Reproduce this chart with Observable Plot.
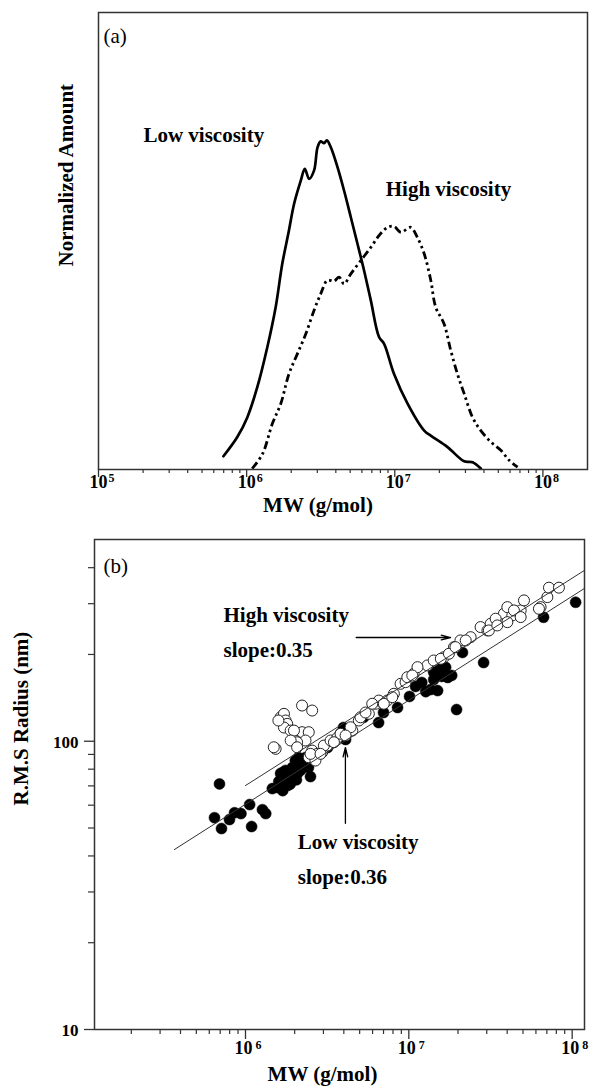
<!DOCTYPE html>
<html>
<head>
<meta charset="utf-8">
<script src="https://cdn.jsdelivr.net/npm/d3@7"></script>
<script src="https://cdn.jsdelivr.net/npm/@observablehq/plot@0.6"></script>
<style>
html, body { margin: 0; padding: 0; background: #fff; }
#chart svg { display: block; }
</style>
</head>
<body>
<div id="chart"></div>
<script>
// ---------- Panel (a): molecular weight distributions ----------
const lowMW = [6.97e5, 8.65e5, 1.01e6, 1.18e6, 1.38e6, 1.57e6, 1.74e6, 1.93e6, 2.09e6, 2.32e6, 2.47e6, 2.64e6, 2.85e6, 3.01e6, 3.16e6, 3.33e6, 3.48e6, 3.70e6, 4.10e6, 4.54e6, 5.05e6, 5.60e6, 6.21e6, 6.89e6, 7.83e6, 8.47e6, 9.89e6, 1.22e7, 1.58e7, 1.75e7, 2.27e7, 2.94e7, 3.35e7, 3.81e7];
const lowAmount = [0.029, 0.071, 0.114, 0.180, 0.268, 0.355, 0.450, 0.523, 0.581, 0.632, 0.658, 0.636, 0.654, 0.705, 0.718, 0.714, 0.720, 0.705, 0.662, 0.611, 0.552, 0.494, 0.435, 0.370, 0.290, 0.275, 0.209, 0.144, 0.085, 0.074, 0.049, 0.018, 0.016, 0.002];
const highMW = [1.09e6, 1.28e6, 1.49e6, 1.70e6, 1.93e6, 2.20e6, 2.51e6, 2.85e6, 3.16e6, 3.51e6, 3.89e6, 4.21e6, 4.54e6, 5.05e6, 5.89e6, 6.89e6, 7.83e6, 8.93e6, 9.89e6, 1.10e7, 1.28e7, 1.42e7, 1.58e7, 1.75e7, 1.89e7, 2.15e7, 2.39e7, 2.65e7, 2.94e7, 3.35e7, 3.81e7, 4.46e7, 5.20e7, 5.92e7, 6.75e7];
const highAmount = [0.002, 0.034, 0.100, 0.144, 0.209, 0.253, 0.297, 0.348, 0.384, 0.414, 0.412, 0.421, 0.406, 0.428, 0.457, 0.486, 0.512, 0.530, 0.532, 0.519, 0.530, 0.508, 0.472, 0.414, 0.355, 0.319, 0.260, 0.209, 0.166, 0.114, 0.085, 0.060, 0.042, 0.020, 0.005];

// ---------- Panel (b): RMS radius vs MW ----------
const lowViscMW = [6.93e5, 6.46e5, 7.13e5, 7.98e5, 8.57e5, 9.38e5, 1.06e6, 1.09e6, 1.27e6, 1.33e6, 1.46e6, 1.57e6, 1.69e6, 1.71e6, 1.64e6, 1.76e6, 1.83e6, 1.94e6, 2.02e6, 1.94e6, 2.08e6, 2.11e6, 2.23e6, 2.33e6, 2.43e6, 1.69e6, 1.81e6, 2.17e6, 2.50e6, 3.18e6, 3.82e6, 3.98e6, 4.10e6, 5.28e6, 6.53e6, 7.00e6, 8.53e6, 1.01e7, 1.10e7, 1.20e7, 1.27e7, 1.36e7, 1.42e7, 1.50e7, 1.59e7, 1.68e7, 1.83e7, 1.96e7, 2.13e7, 2.87e7, 6.68e7, 1.05e8, 1.56e7, 1.42e7, 1.73e7, 1.60e6, 1.88e6, 2.05e6, 2.28e6];
const lowViscR = [71.1, 54.3, 49.8, 53.5, 56.5, 56.1, 60.3, 50.6, 57.9, 56.1, 68.5, 69.1, 67.4, 73.1, 77.3, 79.2, 74.8, 81.1, 85.7, 77.3, 77.3, 87.8, 81.1, 87.8, 81.1, 77.9, 70.2, 79.2, 75.4, 95.1, 106.4, 111.6, 101.4, 120.9, 116.1, 125.8, 130.9, 143.0, 154.9, 159.9, 148.6, 151.1, 163.7, 149.9, 167.8, 180.4, 169.1, 128.8, 203.2, 187.5, 269.2, 303.4, 180.4, 173.4, 166.4, 72.5, 71.0, 73.5, 84.0];
const highViscMW = [2.22e6, 2.56e6, 1.64e6, 1.72e6, 1.76e6, 1.80e6, 1.72e6, 1.89e6, 1.59e6, 2.02e6, 1.53e6, 1.49e6, 2.22e6, 2.44e6, 2.33e6, 2.07e6, 2.56e6, 2.75e6, 2.95e6, 3.17e6, 2.44e6, 2.68e6, 1.98e6, 1.89e6, 2.07e6, 2.50e6, 3.02e6, 3.32e6, 3.65e6, 3.82e6, 4.51e6, 4.94e6, 5.69e6, 6.26e6, 6.55e6, 7.38e6, 8.10e6, 8.90e6, 9.55e6, 1.07e7, 1.30e7, 1.42e7, 1.64e7, 1.89e7, 2.07e7, 2.39e7, 2.75e7, 3.03e7, 3.17e7, 3.48e7, 3.82e7, 4.30e7, 4.84e7, 5.07e7, 4.01e7, 6.41e7, 7.05e7, 7.21e7, 8.30e7, 1.13e7, 9.79e6, 7.03e6, 2.88e6, 3.48e6, 4.40e6, 5.06e6, 5.97e6, 7.92e6, 1.05e7, 1.57e7, 1.76e7, 1.93e7, 2.23e7, 3.09e7, 3.40e7, 4.01e7, 4.40e7, 4.84e7, 6.26e7, 3.48e7, 4.10e6, 5.43e6];
const highViscR = [133.0, 127.8, 121.1, 124.5, 118.0, 114.9, 111.6, 108.9, 118.0, 100.6, 94.1, 95.3, 107.5, 107.5, 100.6, 99.2, 92.8, 90.4, 91.6, 96.6, 88.0, 85.7, 108.9, 100.6, 95.3, 90.4, 96.6, 100.6, 102.8, 106.1, 108.9, 118.0, 124.5, 134.9, 138.4, 138.4, 146.1, 158.2, 160.3, 171.4, 183.2, 190.6, 195.7, 212.0, 223.7, 229.6, 248.9, 242.3, 255.6, 262.5, 276.9, 273.2, 284.3, 308.0, 291.9, 291.9, 316.2, 341.0, 341.0, 180.7, 166.8, 134.9, 90.4, 99.2, 111.8, 121.1, 134.9, 142.2, 169.1, 193.2, 201.1, 212.0, 223.7, 242.3, 266.1, 258.9, 284.3, 269.6, 288.1, 252.2, 104.7, 125.8];

// fitted power-law lines (end points)
const highFitMW = [1.0e6, 1.19e8];
const highFitR = [70.2, 391.6];
const lowFitMW = [3.67e5, 1.19e8];
const lowFitR = [42.1, 339];

// ticks
const decadesA = [1e5, 1e6, 1e7, 1e8];
const exponentsA = ["5", "6", "7", "8"];
const minorA = [2e5, 3e5, 4e5, 5e5, 6e5, 7e5, 8e5, 9e5, 2e6, 3e6, 4e6, 5e6, 6e6, 7e6, 8e6, 9e6, 2e7, 3e7, 4e7, 5e7, 6e7, 7e7, 8e7, 9e7];
const decadesB = [1e6, 1e7, 1e8];
const exponentsB = ["6", "7", "8"];
const minorB = [2e5, 3e5, 4e5, 5e5, 6e5, 7e5, 8e5, 9e5, 2e6, 3e6, 4e6, 5e6, 6e6, 7e6, 8e6, 9e6, 2e7, 3e7, 4e7, 5e7, 6e7, 7e7, 8e7, 9e7];
const yMajorB = [10, 100];
const yMajorLabelsB = ["10", "100"];
const yMinorB = [20, 30, 40, 50, 60, 70, 80, 90, 200, 300, 400];

// annotations (data coordinates)
const annotationsA = [
  {label: "Low viscosity", mw: 2.01e5, amount: 0.731},
  {label: "High viscosity", mw: 8.69e6, amount: 0.614}
];
const annotationsB = [
  {label: "High viscosity", mw: 7.33e5, r: 273},
  {label: "slope:0.35", mw: 7.33e5, r: 206.6},
  {label: "Low viscosity", mw: 2.09e6, r: 44.5},
  {label: "slope:0.36", mw: 2.09e6, r: 33.7}
];
const arrowsB = [
  {x1: 4.76e6, y1: 229, x2: 1.80e7, y2: 229},
  {x1: 4.09e6, y1: 51.9, x2: 4.09e6, y2: 95.1}
];

// ---------- build tables ----------
const lowData = lowMW.map((mw, i) => ({mw, amount: lowAmount[i]}));
const highData = highMW.map((mw, i) => ({mw, amount: highAmount[i]}));
const filledPts = lowViscMW.map((mw, i) => ({mw, r: lowViscR[i]}));
const openPts = highViscMW.map((mw, i) => ({mw, r: highViscR[i]}));
const highFit = highFitMW.map((mw, i) => ({mw, r: highFitR[i]}));
const lowFit = lowFitMW.map((mw, i) => ({mw, r: lowFitR[i]}));
const expA = decadesA.map((v, i) => ({v, e: exponentsA[i]}));
const expB = decadesB.map((v, i) => ({v, e: exponentsB[i]}));
const yLabB = yMajorB.map((v, i) => ({v, t: yMajorLabelsB[i]}));

const FONT = "Liberation Serif";
const INK = "#333";

const plotA = Plot.plot({
  width: 589,
  height: 530,
  marginLeft: 98,
  marginRight: 2,
  marginTop: 12,
  marginBottom: 61,
  style: {fontFamily: FONT, background: "white", color: "black"},
  x: {type: "log", domain: [1e5, 2e8], label: null},
  y: {domain: [0, 1], axis: null, label: null},
  marks: [
    Plot.line(lowData, {x: "mw", y: "amount", stroke: "black", strokeWidth: 2.7, curve: "catmull-rom"}),
    Plot.line(highData, {x: "mw", y: "amount", stroke: "black", strokeWidth: 2.8, strokeLinecap: "butt", strokeDasharray: "8,3.5,2.5,3.5,2.5,3.5", curve: "catmull-rom"}),
    Plot.frame({stroke: INK, strokeWidth: 1.5}),
    Plot.axisX({ticks: decadesA, tickSize: 8, tickFormat: () => "", stroke: INK, strokeWidth: 1.3, label: null}),
    Plot.axisX({ticks: minorA, tickSize: 4, tickFormat: () => "", stroke: INK, strokeWidth: 1.2, label: null}),
    Plot.text(decadesA, {x: d => d, text: () => "10", frameAnchor: "bottom", dy: 18.5, dx: 0, fontSize: 18, fontWeight: "bold", fontFamily: FONT, fill: "black"}),
    Plot.text(expA, {x: "v", text: "e", frameAnchor: "bottom", dy: 12, dx: 10, textAnchor: "start", fontSize: 12, fontWeight: "bold", fontFamily: FONT, fill: "black"}),
    Plot.text(["MW (g/mol)"], {text: d => d, frameAnchor: "bottom", dy: 42.5, dx: -25, fontSize: 21, fontWeight: "bold", fontFamily: FONT, fill: "black"}),
    Plot.text(["Normalized Amount"], {text: d => d, frameAnchor: "left", rotate: -90, dx: -32, dy: 25.5, fontSize: 21, fontWeight: "bold", fontFamily: FONT, fill: "black"}),
    Plot.text(["(a)"], {text: d => d, frameAnchor: "top-left", dx: 5, dy: 16, textAnchor: "start", fontSize: 21, fontFamily: FONT, fill: "black"}),
    Plot.text(annotationsA, {x: "mw", y: "amount", text: "label", textAnchor: "start", fontSize: 21, fontWeight: "bold", fontFamily: FONT, fill: "black"})
  ]
});

const plotB = Plot.plot({
  width: 589,
  height: 560,
  marginLeft: 94,
  marginRight: 5,
  marginTop: 9,
  marginBottom: 61,
  style: {fontFamily: FONT, background: "white", color: "black"},
  x: {type: "log", domain: [1.19e5, 1.19e8], label: null},
  y: {type: "log", domain: [10, 501], label: null},
  marks: [
    Plot.dot(filledPts, {x: "mw", y: "r", r: 5.5, fill: "black", stroke: "black", strokeWidth: 0.5}),
    Plot.dot(openPts, {x: "mw", y: "r", r: 5.5, fill: "white", stroke: "#222", strokeWidth: 1}),
    Plot.line(highFit, {x: "mw", y: "r", stroke: INK, strokeWidth: 1}),
    Plot.line(lowFit, {x: "mw", y: "r", stroke: INK, strokeWidth: 1}),
    Plot.arrow(arrowsB, {x1: "x1", y1: "y1", x2: "x2", y2: "y2", stroke: "black", strokeWidth: 1.3, headAngle: 28, headLength: 11}),
    Plot.text(annotationsB, {x: "mw", y: "r", text: "label", textAnchor: "start", fontSize: 21, fontWeight: "bold", fontFamily: FONT, fill: "black"}),
    Plot.frame({stroke: INK, strokeWidth: 1.5}),
    Plot.axisX({ticks: decadesB, tickSize: 10, tickFormat: () => "", stroke: INK, strokeWidth: 1.3, label: null}),
    Plot.axisX({ticks: minorB, tickSize: 5, tickFormat: () => "", stroke: INK, strokeWidth: 1.2, label: null}),
    Plot.axisY({ticks: yMajorB, tickSize: 10, tickFormat: () => "", stroke: INK, strokeWidth: 1.3, label: null}),
    Plot.axisY({ticks: yMinorB, tickSize: 6, tickFormat: () => "", stroke: INK, strokeWidth: 1.2, label: null}),
    Plot.text(yLabB, {y: "v", text: "t", frameAnchor: "left", dx: -16, dy: 1, textAnchor: "end", fontSize: 17, fontWeight: "bold", fontFamily: FONT, fill: "black"}),
    Plot.text(decadesB, {x: d => d, text: () => "10", frameAnchor: "bottom", dy: 24.5, dx: -2, fontSize: 18, fontWeight: "bold", fontFamily: FONT, fill: "black"}),
    Plot.text(expB, {x: "v", text: "e", frameAnchor: "bottom", dy: 19, dx: 10, textAnchor: "start", fontSize: 12, fontWeight: "bold", fontFamily: FONT, fill: "black"}),
    Plot.text(["MW (g/mol)"], {text: d => d, frameAnchor: "bottom", dy: 51, dx: -17, fontSize: 21, fontWeight: "bold", fontFamily: FONT, fill: "black"}),
    Plot.text(["R.M.S Radius (nm)"], {text: d => d, frameAnchor: "left", rotate: -90, dx: -73, dy: 21, fontSize: 21, fontWeight: "bold", fontFamily: FONT, fill: "black"}),
    Plot.text(["(b)"], {text: d => d, frameAnchor: "top-left", dx: 9, dy: 19, textAnchor: "start", fontSize: 21, fontFamily: FONT, fill: "black"})
  ]
});

const root = document.getElementById("chart");
root.appendChild(plotA);
root.appendChild(plotB);
</script>
</body>
</html>
